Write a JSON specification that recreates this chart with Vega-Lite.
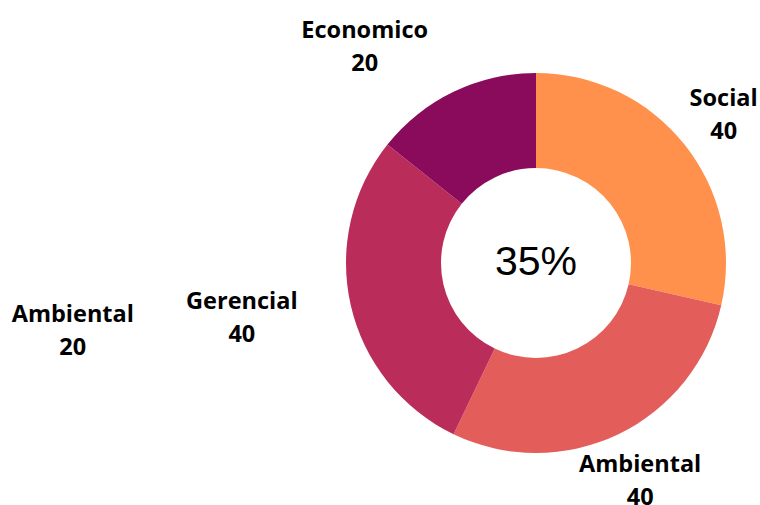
{
  "$schema": "https://vega.github.io/schema/vega-lite/v6.json",
  "autosize": "none",
  "width": 448,
  "height": 484,
  "padding": {"left": 312, "top": 21, "right": 0, "bottom": 0},
  "background": "white",
  "config": {"view": {"stroke": null}},
  "data": {"values": [
    {"category": "Social", "value": 40},
    {"category": "Ambiental", "value": 40},
    {"category": "Gerencial", "value": 40},
    {"category": "Economico", "value": 20}
  ]},
  "transform": [
    {"calculate": "indexof(['Social','Ambiental','Gerencial','Economico'], datum.category)", "as": "idx"},
    {"stack": "value", "groupby": [], "sort": [{"field": "idx"}], "as": ["v0", "v1"]},
    {"calculate": "(datum.v0 + datum.v1) / 2", "as": "mid"},
    {"calculate": "datum.category + '\\n' + datum.value", "as": "label"}
  ],
  "encoding": {
    "color": {"field": "category", "type": "nominal",
      "scale": {"domain": ["Social", "Ambiental", "Gerencial", "Economico"], "range": ["#FF914D", "#E35D5A", "#BA2D5B", "#8A0A5B"]},
      "legend": null}
  },
  "layer": [
    {"mark": {"type": "arc", "radius": 190, "innerRadius": 95},
     "encoding": {"theta": {"field": "v0", "type": "quantitative", "stack": null, "scale": {"domain": [0, 140], "nice": false}}, "theta2": {"field": "v1"}}},
    {"transform": [{"filter": "datum.category == 'Social' || datum.category == 'Ambiental'"}],
     "mark": {"type": "text", "radius": 240, "dy": -14.5, "font": "Open Sans", "fontWeight": "bold", "fontSize": 23.5, "lineHeight": 33, "lineBreak": "\n", "baseline": "middle", "align": "center"},
     "encoding": {"theta": {"field": "mid", "type": "quantitative", "stack": null}, "text": {"field": "label"}, "color": {"value": "black"}}},
    {"transform": [{"filter": "datum.category == 'Gerencial'"}],
     "mark": {"type": "text", "radius": 299, "dy": -14.5, "thetaOffset": 0.0436, "font": "Open Sans", "fontWeight": "bold", "fontSize": 23.5, "lineHeight": 33, "lineBreak": "\n", "baseline": "middle", "align": "center"},
     "encoding": {"theta": {"field": "mid", "type": "quantitative", "stack": null}, "text": {"field": "label"}, "color": {"value": "black"}}},
    {"transform": [{"filter": "datum.category == 'Economico'"}],
     "mark": {"type": "text", "radius": 277, "dy": -14.5, "thetaOffset": -0.218, "font": "Open Sans", "fontWeight": "bold", "fontSize": 23.5, "lineHeight": 33, "lineBreak": "\n", "baseline": "middle", "align": "center"},
     "encoding": {"theta": {"field": "mid", "type": "quantitative", "stack": null}, "text": {"field": "label"}, "color": {"value": "black"}}},
    {"data": {"values": [{"category": "Ambiental", "value": 20}]},
     "transform": [{"calculate": "datum.category + '\\n' + datum.value", "as": "label"}],
     "mark": {"type": "text", "radius": 468, "dy": -14.5, "theta": 4.569, "font": "Open Sans", "fontWeight": "bold", "fontSize": 23.5, "lineHeight": 33, "lineBreak": "\n", "baseline": "middle", "align": "center"},
     "encoding": {"text": {"field": "label"}, "color": {"value": "black"}}},
    {"data": {"values": [{"pct": "35%"}]},
     "mark": {"type": "text", "font": "Liberation Sans", "fontSize": 41, "baseline": "middle", "align": "center"},
     "encoding": {"text": {"field": "pct"}, "color": {"value": "black"}}}
  ]
}
